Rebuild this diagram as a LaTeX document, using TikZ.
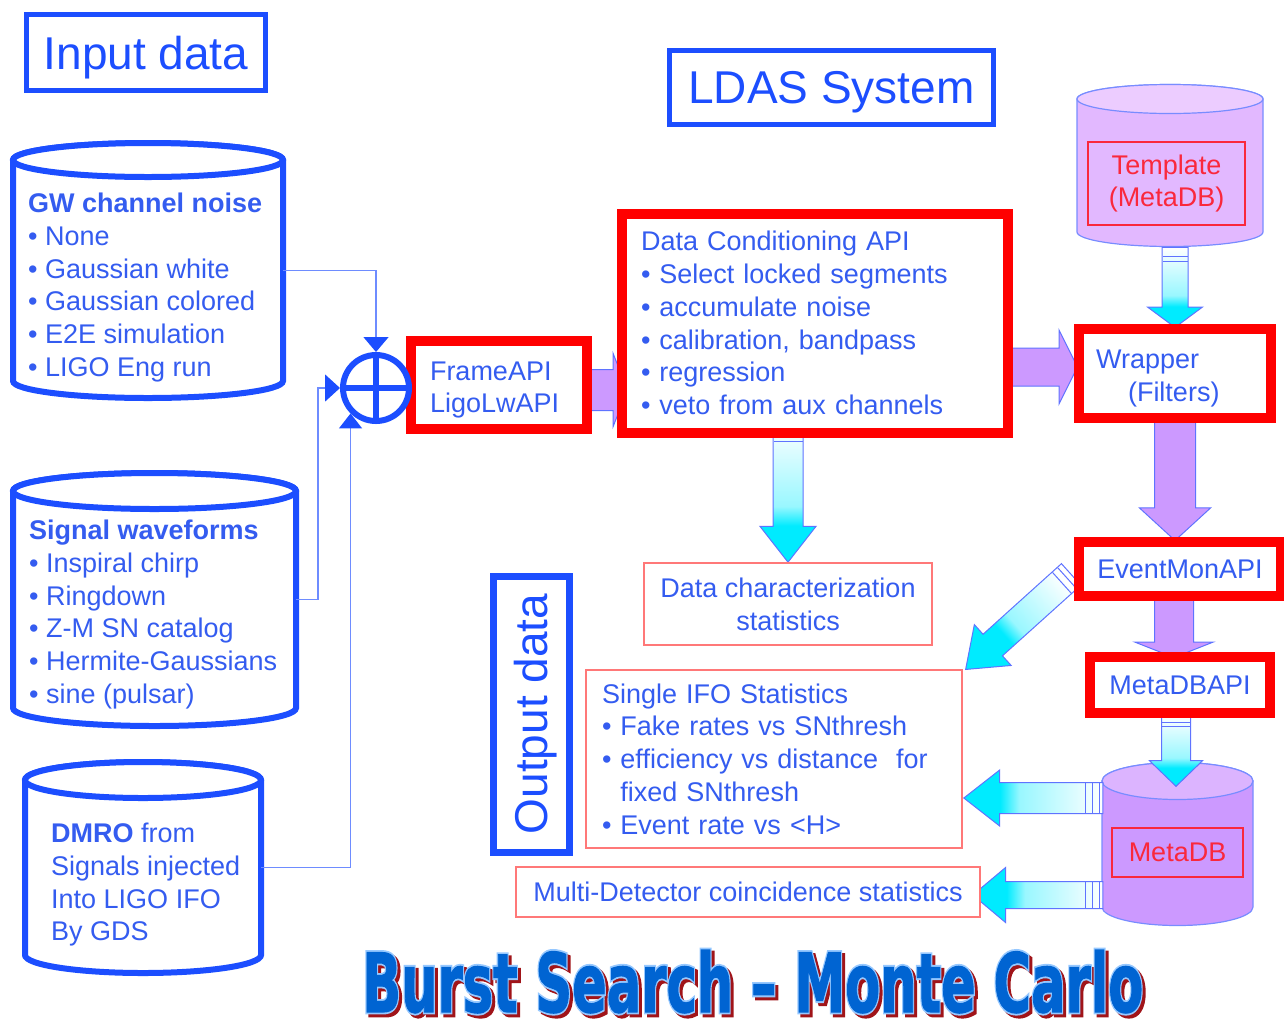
\documentclass[tikz,border=0pt]{standalone}
\usepackage{fontspec}
\setmainfont{Liberation Sans}
\newfontfamily\titlefont{DejaVu Sans Bold}[FakeBold=1.5]
\newfontfamily\titlehalofont{DejaVu Sans Bold}[FakeBold=6]
\usetikzlibrary{shapes.arrows,arrows.meta,calc}

\definecolor{ldblue}{RGB}{28,78,255}
\definecolor{ldtext}{RGB}{52,92,240}
\definecolor{ldlink}{RGB}{110,140,255}
\definecolor{ldred}{RGB}{255,0,0}
\definecolor{ldpink}{RGB}{255,120,120}
\definecolor{dbred}{RGB}{250,40,60}
\definecolor{dbedge}{RGB}{120,140,255}
\definecolor{tmplfill}{RGB}{226,184,255}
\definecolor{tmpltop}{RGB}{236,204,255}
\definecolor{mdbfill}{RGB}{204,153,255}
\definecolor{mdbtop}{RGB}{220,180,255}
\definecolor{arrowedge}{RGB}{95,115,255}
\definecolor{arrowpurple}{RGB}{204,153,255}
\definecolor{arrowcyan}{RGB}{0,235,255}
\definecolor{titleblue}{RGB}{0,100,210}
\definecolor{titlehalo}{RGB}{150,200,255}
\definecolor{titleshadow}{RGB}{160,20,25}

% white tail fading into cyan at the head
\pgfdeclarehorizontalshading{arrowfade}{100bp}{color(0bp)=(white); color(25bp)=(white);
  color(55bp)=(arrowcyan!40); color(62bp)=(arrowcyan); color(100bp)=(arrowcyan)}

\pgfdeclarelayer{back}
\pgfsetlayers{back,main}

\tikzset{
  bodytext/.style={text=ldtext, font=\fontsize{27}{32.7}\selectfont},
  headbox/.style={rectangle, draw=ldblue, line width=5pt, fill=white, text=ldblue,
    font=\fontsize{46}{52}\selectfont, text depth=0pt, inner sep=0pt},
  apibox/.style={rectangle, draw=ldred, line width=10pt, fill=white, bodytext,
    inner sep=0pt, outer sep=0pt},
  statbox/.style={rectangle, draw=ldpink, line width=2pt, fill=white, bodytext,
    inner sep=0pt, outer sep=0pt},
  dbbox/.style={rectangle, draw=dbred, line width=1.5pt, text=dbred,
    font=\fontsize{27}{32.7}\selectfont, inner sep=0pt},
  dbnode/.style={rectangle, inner sep=0pt, outer sep=0pt},
  dbtext/.style={bodytext, align=left, anchor=north west, inner sep=0pt},
  dbblue/.style={draw=ldblue, line width=6pt, fill=white},
  dbblue-top/.style={dbblue},
  dbpink/.style={draw=dbedge, line width=1.2pt, fill=tmplfill},
  dbpink-top/.style={dbpink, fill=tmpltop},
  dbpurple/.style={draw=dbedge, line width=1.2pt, fill=mdbfill},
  dbpurple-top/.style={dbpurple, fill=mdbtop},
  adder/.style={circle, draw=ldblue, line width=6pt, fill=white,
    minimum size=66pt, inner sep=0pt},
  link/.style={draw=ldlink, line width=1.5pt},
  purparrow/.style={single arrow, single arrow head indent=0pt, draw=arrowedge,
    line width=1pt, fill=arrowpurple, inner sep=0pt, anchor=tail, rotate=#1},
  purparrow/.default=0,
  cyanarrow/.style={single arrow, single arrow head indent=0pt, draw=arrowedge,
    line width=1pt, shading=arrowfade, shading angle=#1, inner sep=0pt, anchor=tail, rotate=#1},
  cyanarrow/.default=0,
  band/.style={draw=arrowedge, line width=1pt},
  titletext/.style={anchor=base west, inner sep=0pt}
}

\newcommand\bursttitle{\resizebox{781pt}{62pt}{Burst Search – Monte Carlo}}

\begin{document}
\begin{tikzpicture}[x=1pt,y=-1pt]
\useasboundingbox (0,0) rectangle (1284,1021);

% headings
\node[headbox, minimum width=239pt, minimum height=76pt] (inputbox) at (146,52.5) {Input data};
\node[headbox, minimum width=324pt, minimum height=74pt] (ldas) at (831.5,87.5) {LDAS System};
\node[headbox, line width=7pt, rotate=90, minimum width=276pt, minimum height=75.5pt]
  (outbox) at (531.25,714) {Output data};

% databases (body between the two ellipse centres)
\node[dbnode, minimum width=270pt, minimum height=221pt] (gw) at (148,270.5) {};
\node[dbnode, minimum width=283pt, minimum height=217pt] (sig) at (154.5,599.5) {};
\node[dbnode, minimum width=236pt, minimum height=175pt] (dmro) at (143,867.5) {};
\node[dbnode, minimum width=186pt, minimum height=133pt] (tmpl) at (1170,165.5) {};
\node[dbnode, minimum width=151pt, minimum height=126pt] (mdb) at (1177.5,844) {};

\node[dbtext] (gwtext) at ([shift={(15,33)}]gw.north west)
  {\textbf{GW channel noise}\\• None\\• Gaussian white\\• Gaussian colored\\• E2E simulation\\• LIGO Eng run};
\node[dbtext] (sigtext) at ([shift={(16,29)}]sig.north west)
  {\textbf{Signal waveforms}\\• Inspiral chirp\\• Ringdown\\• Z-M SN catalog\\• Hermite-Gaussians\\• sine (pulsar)};
\node[dbtext] (dmrotext) at ([shift={(26,43)}]dmro.north west)
  {\textbf{DMRO} from\\Signals injected\\Into LIGO IFO\\By GDS};
\node[dbbox, minimum width=157pt, minimum height=83pt, align=center] (tmplbox) at (1166.5,183.5)
  {Template\\(MetaDB)};
\node[dbbox, minimum width=131pt, minimum height=49pt] (mdbbox) at (1177.5,852.5) {MetaDB};

% LDAS APIs
\node[apibox, minimum width=176.5pt, minimum height=88pt, text width=137.5pt, text depth=28pt,
  inner xsep=19.5pt, align=left] (frame) at (498.75,385) {FrameAPI\\LigoLwAPI};
\node[apibox, minimum width=385.5pt, minimum height=219pt, text width=347.5pt,
  inner xsep=19pt, align=left] (dc) at (814.75,323)
  {Data Conditioning API\\• Select locked segments\\• accumulate noise\\• calibration, bandpass\\• regression\\• veto from aux channels};
\node[apibox, minimum width=192pt, minimum height=89pt, text width=158pt, text depth=28pt,
  inner xsep=17pt, align=left] (wrap) at (1175,373.5) {Wrapper\\\hspace*{32pt}(Filters)};
\node[apibox, minimum width=202pt, minimum height=54pt] (evt) at (1180,569) {EventMonAPI};
\node[apibox, minimum width=180pt, minimum height=56pt] (mdbapi) at (1180,685) {MetaDBAPI};

% output statistics
\node[statbox, minimum width=288pt, minimum height=82pt, align=center] (datachar) at (788,604)
  {Data characterization\\statistics};
\node[statbox, minimum width=376pt, minimum height=178pt, text width=344pt,
  inner xsep=16pt, align=left] (single) at (774,759)
  {Single IFO Statistics\\• Fake rates vs SNthresh\\• efficiency vs distance\ \ for\\\hphantom{•\ }fixed SNthresh\\• Event rate vs <H>};
\node[statbox, minimum width=464pt, minimum height=50pt] (multi) at (748,892)
  {Multi-Detector coincidence statistics};

\begin{pgfonlayer}{back}
  \foreach \cyl/\rx/\ry/\sty in {gw/135/17/dbblue, sig/141.5/18/dbblue, dmro/118/18/dbblue,
      tmpl/93/14.5/dbpink, mdb/75.5/18.5/dbpurple}{
    \filldraw[\sty] (\cyl.north west) -- (\cyl.south west)
      arc[start angle=180, end angle=0, x radius=\rx, y radius=\ry] -- (\cyl.north east)
      arc[start angle=0, end angle=-180, x radius=\rx, y radius=\ry] -- cycle;
    \filldraw[\sty-top] (\cyl.north) ellipse[x radius=\rx, y radius=\ry];
  }

  % block arrows (inner ysep = half the shaft)
  \node[purparrow, inner ysep=20pt, minimum height=43pt, minimum width=72pt,
    single arrow head extend=16pt, single arrow tip angle=137] (a1) at ([shift={(-3,5)}]frame.east) {};
  \node[purparrow, anchor=tip, inner ysep=18.5pt, minimum height=71pt, minimum width=73pt,
    single arrow head extend=18pt, single arrow tip angle=127] (a2) at ([shift={(-1,-6.5)}]wrap.west) {};
  \node[cyanarrow=-90, anchor=tip, inner ysep=12.5pt, minimum height=80pt, minimum width=54pt,
    single arrow head extend=14.5pt, single arrow tip angle=107] (a3) at ([shift={(0,-1)}]wrap.north) {};
  \node[purparrow=-90, inner ysep=20pt, minimum height=122pt, minimum width=70pt,
    single arrow head extend=15pt, single arrow tip angle=95] (a4) at (wrap.south) {};
  \node[purparrow=-90, inner ysep=19pt, minimum height=61pt, minimum width=77pt,
    single arrow head extend=19.5pt, single arrow tip angle=137] (a5) at ([shift={(-6,0)}]evt.south) {};
  \node[cyanarrow=-90, anchor=tip, inner ysep=14pt, minimum height=71pt, minimum width=52pt,
    single arrow head extend=12pt, single arrow tip angle=92] (a6) at ([shift={(-1.5,6)}]mdb.north) {};
  \node[cyanarrow=-90, anchor=tip, inner ysep=14.5pt, minimum height=140pt, minimum width=55pt,
    single arrow head extend=13pt, single arrow tip angle=76] (a7) at (datachar.north) {};
  \node[cyanarrow=180, anchor=tip, inner ysep=15pt, minimum height=139pt, minimum width=55pt,
    single arrow head extend=12.5pt, single arrow tip angle=76] (a8) at ([shift={(1,39)}]single.east) {};
  \node[cyanarrow=180, anchor=tip, inner ysep=13pt, minimum height=130pt, minimum width=54pt,
    single arrow head extend=14pt, single arrow tip angle=80] (a9) at ([shift={(-8,3)}]multi.east) {};
  \node[cyanarrow=222, anchor=tip, inner ysep=14pt, minimum height=142pt, minimum width=54pt,
    single arrow head extend=13pt, single arrow tip angle=74] (a10) at ([shift={(3,0)}]single.north east) {};

  % bands across the tails
  \foreach \arr/\bd/\hw in {a3/10/12.5, a3/15/12.5, a6/8/14, a6/12/14, a7/12/14.5, a7/20/14.5,
      a8/4/15, a8/11/15, a8/18/15, a9/4/13, a9/11/13, a9/18/13, a10/6/14, a10/13/14}{
    \draw[band] ($(\arr.tail)!\bd pt!(\arr.tip)!\hw pt!90:(\arr.tip)$)
      -- ($(\arr.tail)!\bd pt!(\arr.tip)!\hw pt!-90:(\arr.tip)$);
  }
\end{pgfonlayer}

% summing junction
\node[adder] (add) at (376,388) {};
\draw[ldblue, line width=6pt] (add.north) -- (add.south) (add.west) -- (add.east);

\draw[link, -{Triangle[width=25pt,length=15pt,color=ldblue]}] (gw.east) -| (add.north);
\draw[link, -{Triangle[width=27pt,length=15pt,color=ldblue]}] (sig.east) -- ++(22,0) |- (add.west);
\draw[link, -{Triangle[width=23pt,length=15pt,color=ldblue]}] (dmro.east) -| (add.south west);

% title: shadow, halo, letters
\node[titletext, text=titleshadow, font=\titlehalofont] (ttlshade) at (365,1015) {\bursttitle};
\node[titletext, text=titlehalo, font=\titlehalofont] (ttlhalo) at (362,1012) {\bursttitle};
\node[titletext, text=titleblue, font=\titlefont] (ttl) at (362,1012) {\bursttitle};
\end{tikzpicture}
\end{document}
